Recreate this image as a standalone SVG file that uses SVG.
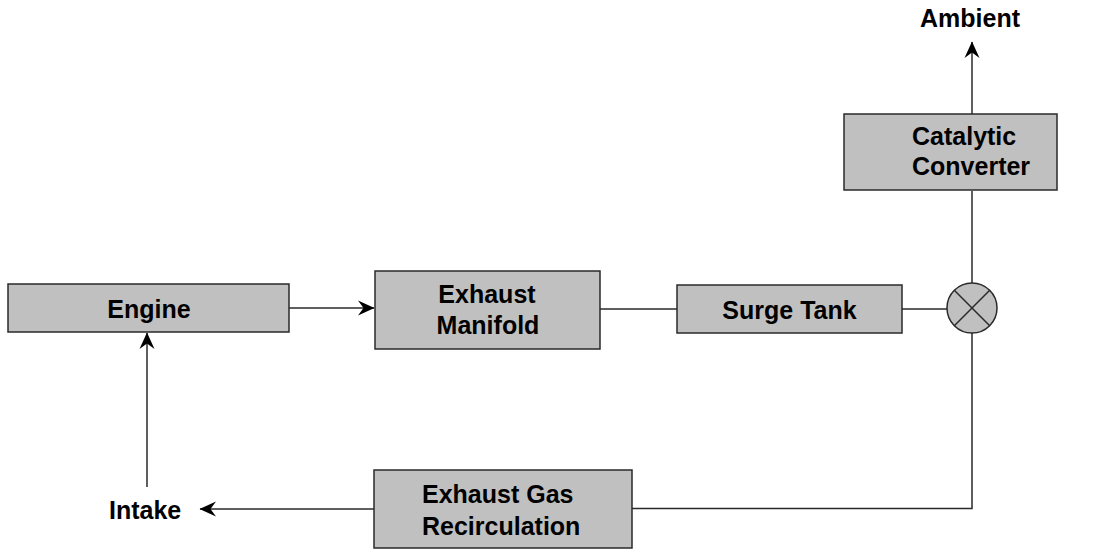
<svg xmlns="http://www.w3.org/2000/svg" width="1095" height="550" viewBox="0 0 1095 550">
<defs>
<style>
.box{fill:#c0c0c0;stroke:#2a2a2a;stroke-width:1.5}
.t{font-family:"Liberation Sans",Arial,sans-serif;font-weight:bold;font-size:25px;fill:#000}
.c{text-anchor:middle}
.ln{fill:none;stroke:#2a2a2a;stroke-width:1.5}
</style>
<marker id="ah" viewBox="0 0 17 16" refX="16" refY="8" markerWidth="17" markerHeight="16" markerUnits="userSpaceOnUse" orient="auto">
<path d="M0,0.5 L16.5,8 L0,15.5 L5.5,8 Z" fill="#000"/>
</marker>
</defs>
<rect width="1095" height="550" fill="#fff"/>
<g id="connectors">
<line class="ln" x1="289" y1="308" x2="374" y2="308" marker-end="url(#ah)"/>
<line class="ln" x1="600" y1="309" x2="677" y2="309"/>
<line class="ln" x1="902" y1="309" x2="947" y2="309"/>
<line class="ln" x1="972" y1="283" x2="972" y2="191"/>
<line class="ln" x1="972" y1="114" x2="972" y2="42" marker-end="url(#ah)"/>
<polyline class="ln" points="972,333 972,508.5 632,508.5"/>
<line class="ln" x1="374" y1="509" x2="200" y2="509" marker-end="url(#ah)"/>
<line class="ln" x1="147" y1="487" x2="147" y2="333" marker-end="url(#ah)"/>
</g>
<g id="engine">
<rect class="box" x="8" y="284" width="281" height="48"/>
<text class="t c" x="149" y="318">Engine</text>
</g>
<g id="exhaust-manifold">
<rect class="box" x="375" y="271" width="225" height="78"/>
<text class="t c" x="487" y="303">Exhaust</text>
<text class="t c" x="488" y="334">Manifold</text>
</g>
<g id="surge-tank">
<rect class="box" x="677" y="285" width="225" height="48"/>
<text class="t c" x="789.5" y="319">Surge Tank</text>
</g>
<g id="junction">
<circle class="box" cx="972" cy="308" r="25"/>
<line class="ln" x1="954.3" y1="290.3" x2="989.7" y2="325.7"/>
<line class="ln" x1="989.7" y1="290.3" x2="954.3" y2="325.7"/>
</g>
<g id="catalytic-converter">
<rect class="box" x="844" y="114" width="213" height="76"/>
<text class="t" x="912" y="145">Catalytic</text>
<text class="t" x="912" y="175">Converter</text>
</g>
<g id="ambient">
<text class="t c" x="970" y="27">Ambient</text>
</g>
<g id="egr">
<rect class="box" x="374" y="470" width="258" height="78"/>
<text class="t" x="422" y="503">Exhaust Gas</text>
<text class="t" x="422" y="535">Recirculation</text>
</g>
<g id="intake">
<text class="t" x="109" y="519">Intake</text>
</g>
</svg>
